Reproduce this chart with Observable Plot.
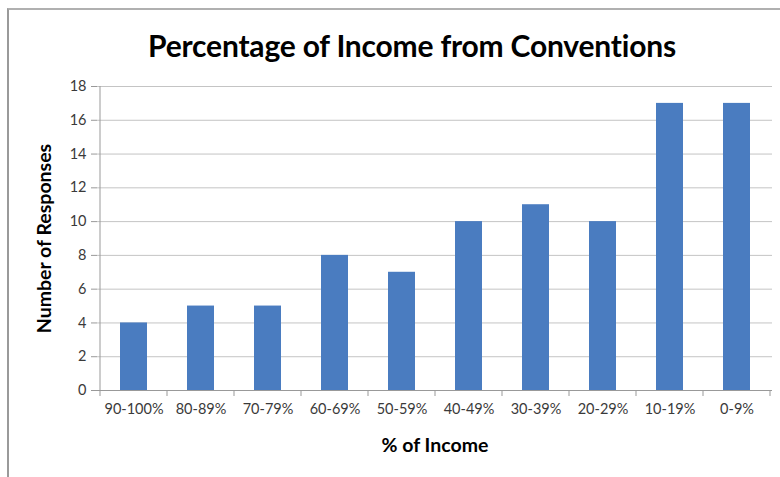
<!DOCTYPE html>
<html>
<head>
<meta charset="utf-8">
<script src="https://cdn.jsdelivr.net/npm/d3@7"></script>
<script src="https://cdn.jsdelivr.net/npm/@observablehq/plot@0.6"></script>
<style>
  html, body { margin: 0; padding: 0; background: #fff; }
  #wrap { position: relative; width: 780px; height: 477px; overflow: hidden; background: #fff; }
  #frame { position: absolute; left: 7px; top: 8px; width: 800px; height: 500px;
           border-left: 2px solid #9a9a9a; border-top: 2px solid #b0b0b0; }
  #title { position: absolute; left: 22px; top: 0; width: 780px; height: 70px; line-height: 90px;
           text-align: center; font-family: Lato, sans-serif; font-weight: bold; font-size: 30px; color: #000; letter-spacing: -0.2px; }
  #chart { position: absolute; left: 0; top: 70px; }
</style>
</head>
<body>
<div id="wrap">
  <div id="frame"></div>
  <div id="title">Percentage of Income from Conventions</div>
  <div id="chart"></div>
</div>
<script>
const categories = ["90-100%", "80-89%", "70-79%", "60-69%", "50-59%", "40-49%", "30-39%", "20-29%", "10-19%", "0-9%"];
const responses = [4, 5, 5, 8, 7, 10, 11, 10, 17, 17];
const yTicks = [0, 2, 4, 6, 8, 10, 12, 14, 16, 18];

const data = categories.map((c, i) => ({category: c, value: responses[i]}));

const plot = Plot.plot({
  width: 780,
  height: 407,
  marginTop: 16,
  marginBottom: 87,
  marginLeft: 97,
  marginRight: 8,
  style: {fontFamily: "Lato, sans-serif", background: "transparent"},
  x: {domain: categories, paddingInner: 0.6, paddingOuter: 0.3, label: null},
  y: {domain: [0, 18], label: null},
  marks: [
    Plot.gridY(yTicks, {stroke: "#c4c4c4", strokeOpacity: 1, strokeWidth: 1}),
    Plot.barY(data, {x: "category", y: "value", fill: "#4a7cc0"}),
    Plot.axisY(yTicks, {tickSize: 6, tickPadding: 5, fontSize: 14.5, color: "#3a3a3a", stroke: "#999", label: null}),
    Plot.ruleY([0], {stroke: "#999"}),
    Plot.axisX({tickSize: 0, tickPadding: 13, fontSize: 14.5, color: "#3a3a3a", label: null}),
    Plot.text(["Number of Responses"], {frameAnchor: "left", textAnchor: "middle", dx: -53, rotate: -90, fontSize: 19.5, fontWeight: "bold", fill: "#000"}),
    Plot.text(["% of Income"], {frameAnchor: "bottom", dy: 61, fontSize: 19.5, fontWeight: "bold", fill: "#000"})
  ]
});

// boundary ticks on the x axis and the y axis line, derived from the scales
const xs = plot.scale("x");
const ys = plot.scale("y");
const svg = d3.select(plot.tagName === "svg" ? plot : plot.querySelector("svg"));
const y0 = ys.apply(0);
const yTop = ys.apply(18);
const gap = (xs.step - xs.bandwidth) / 2;
const boundaries = categories.map(c => xs.apply(c) - gap);
boundaries.push(xs.apply(categories[categories.length - 1]) + xs.bandwidth + gap);
const g = svg.append("g").attr("stroke", "#999").attr("stroke-width", 1);
boundaries.forEach(b => {
  g.append("line").attr("x1", b).attr("x2", b).attr("y1", y0).attr("y2", y0 + 6);
});
g.append("line").attr("x1", boundaries[0]).attr("x2", boundaries[0]).attr("y1", yTop).attr("y2", y0);

document.getElementById("chart").appendChild(plot);
</script>
</body>
</html>
